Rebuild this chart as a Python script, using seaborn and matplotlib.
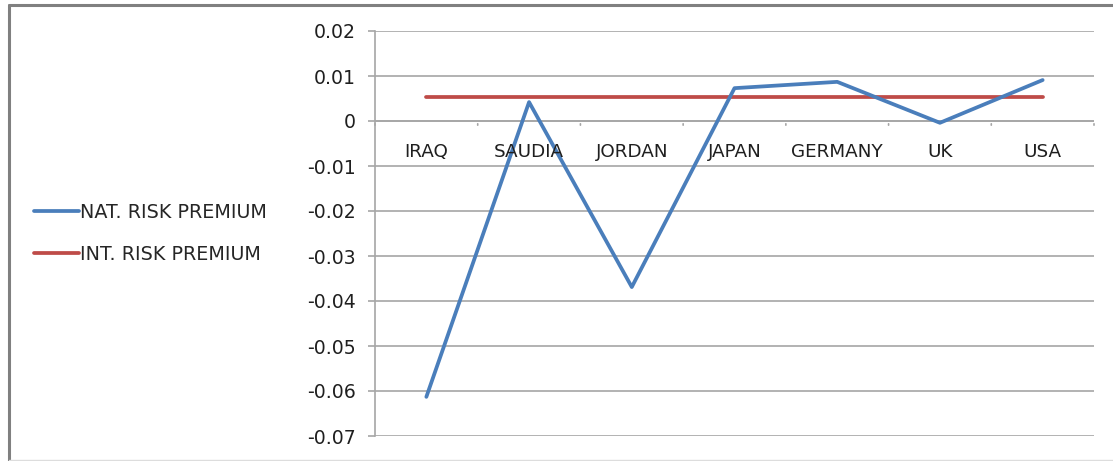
import matplotlib
matplotlib.use("Agg")
import matplotlib.pyplot as plt
from matplotlib.lines import Line2D
import numpy as np
import pandas as pd
import seaborn as sns

countries = ["IRAQ", "SAUDIA", "JORDAN", "JAPAN", "GERMANY", "UK", "USA"]
nat_risk_premium = [-0.0613, 0.0042, -0.0369, 0.0073, 0.0087, -0.0004, 0.0091]
int_risk_premium = [0.0053, 0.0053, 0.0053, 0.0053, 0.0053, 0.0053, 0.0053]
y_ticks = [0.02, 0.01, 0, -0.01, -0.02, -0.03, -0.04, -0.05, -0.06, -0.07]

BLUE = "#4a7ebb"
RED = "#be4b48"
GRID = "#a6a6a6"
TEXT = "#1f1f1f"

sns.set_theme(style="white")
plt.rcParams["font.family"] = ["DejaVu Sans"]

df = pd.DataFrame({
    "pos": np.arange(len(countries)),
    "NAT. RISK PREMIUM": nat_risk_premium,
    "INT. RISK PREMIUM": int_risk_premium,
})
long = df.melt(id_vars="pos", var_name="series", value_name="value")

fig = plt.figure(figsize=(11.13, 4.61), dpi=100)
ax = fig.add_axes([375 / 1113, 1 - 436 / 461, (1094 - 375) / 1113, (436 - 31) / 461])

sns.lineplot(data=long, x="pos", y="value", hue="series",
             palette={"NAT. RISK PREMIUM": BLUE, "INT. RISK PREMIUM": RED},
             hue_order=["NAT. RISK PREMIUM", "INT. RISK PREMIUM"],
             linewidth=2.7, sort=False, legend=False, ax=ax, zorder=3)
ax.lines[1].set_zorder(2)

ax.set_xlim(-0.5, len(countries) - 0.5)
ax.set_ylim(-0.07, 0.02)
ax.set_yticks(y_ticks)
ax.set_yticklabels([f"{v:g}" for v in y_ticks], fontsize=13.6, color=TEXT)
ax.yaxis.grid(True, color=GRID, linewidth=1.2)
ax.set_axisbelow(True)
ax.set_xticks([])
ax.set_xlabel("")
ax.set_ylabel("")
for side in ["top", "right", "bottom"]:
    ax.spines[side].set_visible(False)
ax.spines["left"].set_color(GRID)
ax.spines["left"].set_linewidth(1.2)
ax.tick_params(axis="y", which="major", length=5, width=1.2, color=GRID, left=True, pad=9)

# category axis sits at zero, with boundary ticks hanging below it
ax.axhline(0, color=GRID, linewidth=1.2, zorder=1)
for b in np.arange(-0.5, len(countries), 1.0):
    ax.annotate("", xy=(b, 0), xytext=(0, -5), textcoords="offset points",
                arrowprops=dict(arrowstyle="-", color=GRID, lw=1.2))
for i, name in enumerate(countries):
    ax.annotate(name, xy=(i, 0), xytext=(0, -22), textcoords="offset points",
                ha="center", va="center", fontsize=13.2, color=TEXT, zorder=4)

handles = [Line2D([], [], color=BLUE, lw=2.7), Line2D([], [], color=RED, lw=2.7)]
fig.legend(handles, ["NAT. RISK PREMIUM", "INT. RISK PREMIUM"],
           loc="center left", bbox_to_anchor=(26 / 1113, 1 - 233.5 / 461),
           frameon=False, fontsize=13.8, handlelength=2.35, handletextpad=0.05,
           labelspacing=1.2, borderaxespad=0)

# chart frame
fig.add_artist(Line2D([9 / 1113, 1], [1 - 5 / 461, 1 - 5 / 461], transform=fig.transFigure,
                      color="#808080", lw=2.2))
fig.add_artist(Line2D([9 / 1113, 9 / 1113], [0, 1 - 5 / 461], transform=fig.transFigure,
                      color="#808080", lw=2.2))
fig.add_artist(Line2D([9 / 1113, 1], [1.5 / 461, 1.5 / 461], transform=fig.transFigure,
                      color="#dddddd", lw=1.0))

fig.savefig("out.png", dpi=100)
